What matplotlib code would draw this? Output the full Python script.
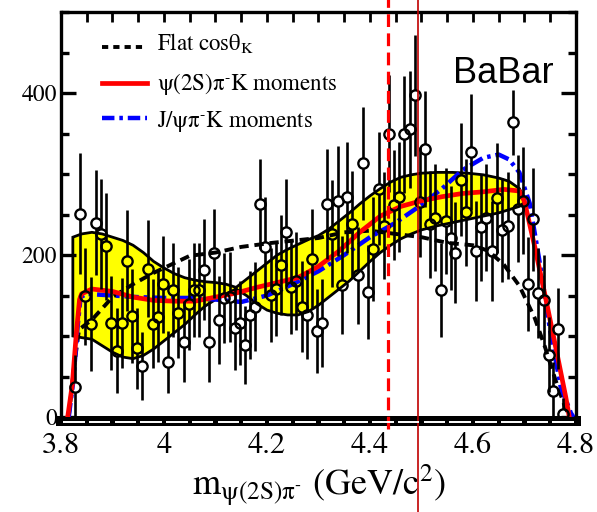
import numpy as np
import matplotlib
matplotlib.use("Agg")
import matplotlib.pyplot as plt
import matplotlib.transforms as mtransforms

plt.rcParams['font.family'] = ['STIXGeneral', 'DejaVu Sans']
plt.rcParams['mathtext.fontset'] = 'stix'

# measured m(psi(2S) pi-) spectrum, GeV/c^2 and events per bin
mass = [3.827, 3.837, 3.847, 3.858, 3.868, 3.878, 3.888, 3.898, 3.908, 3.918,
        3.928, 3.938, 3.948, 3.958, 3.968, 3.978, 3.988, 3.998, 4.007, 4.017,
        4.028, 4.038, 4.048, 4.058, 4.068, 4.078, 4.088, 4.097, 4.107, 4.117,
        4.128, 4.138, 4.148, 4.157, 4.167, 4.177, 4.187, 4.197, 4.207, 4.217,
        4.227, 4.237, 4.247, 4.257, 4.267, 4.277, 4.287, 4.297, 4.307, 4.317,
        4.327, 4.337, 4.346, 4.356, 4.366, 4.376, 4.386, 4.396, 4.406, 4.417,
        4.427, 4.437, 4.446, 4.456, 4.466, 4.477, 4.487, 4.497, 4.507, 4.516,
        4.527, 4.537, 4.547, 4.557, 4.566, 4.576, 4.586, 4.596, 4.606, 4.616,
        4.625, 4.636, 4.646, 4.657, 4.667, 4.677, 4.687, 4.697, 4.707, 4.717,
        4.727, 4.737, 4.747, 4.755, 4.766, 4.774]
counts = [37, 251, 149, 115, 240, 226, 211, 116, 82, 116,
          193, 125, 85, 63, 183, 115, 124, 164, 68, 157,
          129, 93, 139, 157, 157, 182, 93, 202, 120, 147,
          148, 110, 116, 89, 126, 136, 263, 210, 151, 158,
          188, 228, 160, 168, 136, 126, 195, 106, 116, 263,
          226, 267, 163, 271, 238, 175, 313, 154, 207, 282,
          236, 350, 262, 272, 349, 355, 397, 265, 331, 238,
          246, 157, 242, 221, 203, 293, 253, 327, 205, 234,
          246, 205, 270, 231, 236, 364, 257, 267, 164, 244,
          153, 144, 77, 32, 109, 4]
errors = [40, 75, 60, 58, 65, 68, 66, 58, 52, 56,
          62, 58, 50, 42, 60, 55, 56, 60, 38, 58,
          56, 50, 56, 58, 58, 62, 50, 55, 54, 56,
          56, 52, 52, 48, 54, 55, 55, 62, 58, 58,
          62, 66, 58, 60, 56, 55, 62, 52, 54, 68,
          66, 68, 60, 68, 66, 60, 70, 58, 64, 70,
          66, 72, 68, 68, 72, 72, 75, 68, 72, 66,
          66, 58, 66, 64, 62, 70, 66, 72, 62, 66,
          66, 62, 68, 64, 66, 40, 66, 66, 58, 64,
          56, 56, 46, 36, 50, 20]

# psi(2S) pi- K moments projection with its uncertainty band
band_m = [3.823, 3.84, 3.86, 3.88, 3.90, 3.92, 3.94, 3.96, 3.98, 4.00,
          4.02, 4.04, 4.06, 4.08, 4.10, 4.12, 4.14, 4.16, 4.18, 4.20,
          4.22, 4.24, 4.26, 4.28, 4.30, 4.32, 4.34, 4.36, 4.38, 4.40,
          4.42, 4.44, 4.46, 4.48, 4.50, 4.53, 4.56, 4.59, 4.62, 4.65,
          4.67, 4.69, 4.70]
band_hi = [222, 226, 228, 226, 222, 218, 212, 203, 192, 184,
           177, 172, 169, 167, 166, 164, 160, 170, 180, 190,
           200, 207, 213, 219, 224, 232, 242, 252, 263, 273,
           282, 290, 296, 299, 301, 302, 302, 301, 299, 295,
           291, 282, 270]
band_lo = [100, 98, 96, 88, 80, 74, 72, 76, 84, 94,
           104, 114, 126, 137, 145, 152, 158, 150, 140, 132,
           128, 126, 126, 130, 138, 148, 158, 168, 180, 192,
           203, 212, 220, 226, 231, 236, 240, 244, 248, 252,
           256, 260, 265]

psi2s_m = [3.813, 3.822, 3.830, 3.836, 3.84, 3.86, 3.90, 3.94, 3.98, 4.02,
           4.06, 4.10, 4.14, 4.18, 4.22, 4.26, 4.30, 4.34, 4.38, 4.42,
           4.46, 4.50, 4.54, 4.58, 4.62, 4.66, 4.69, 4.70, 4.72, 4.74,
           4.76, 4.78, 4.787]
psi2s_y = [0, 40, 105, 145, 152, 158, 155, 148, 144, 143,
           143, 148, 153, 160, 166, 172, 186, 205, 228, 248,
           260, 267, 272, 276, 278, 281, 279, 266, 210, 150,
           88, 25, 0]

# J/psi pi- K moments projection
jpsi_m = [3.815, 3.824, 3.832, 3.838, 3.85, 3.90, 3.95, 4.00, 4.05, 4.10,
          4.15, 4.20, 4.25, 4.30, 4.35, 4.40, 4.45, 4.50, 4.54, 4.58,
          4.62, 4.65, 4.67, 4.69, 4.71, 4.73, 4.75, 4.77, 4.79, 4.795]
jpsi_y = [0, 45, 110, 148, 152, 150, 148, 147, 147, 145,
          142, 150, 164, 180, 200, 222, 240, 262, 282, 305,
          320, 324, 318, 302, 264, 189, 106, 38, 5, 0]

# flat cos(theta_K) expectation
flat_m = [3.815, 3.825, 3.835, 3.86, 3.90, 3.94, 3.98, 4.02, 4.05, 4.10,
          4.15, 4.21, 4.30, 4.35, 4.40, 4.45, 4.50, 4.55, 4.60, 4.63,
          4.66, 4.69, 4.72, 4.74, 4.76, 4.78, 4.79]
flat_y = [0, 60, 108, 120, 148, 164, 178, 190, 199, 203,
          210, 215, 221, 228, 230, 226, 222, 215, 212, 205,
          188, 162, 122, 86, 46, 10, 0]

z_dashed = 4.435
z_solid = 4.493

fig = plt.figure(figsize=(5.97, 5.12), dpi=100)
ax = fig.add_axes([61 / 597, 1 - 417 / 512, 515 / 597, 405 / 512])
ax.set_xlim(3.8, 4.8)
ax.set_ylim(0, 500)

ax.fill(np.r_[band_m, band_m[::-1]], np.r_[band_hi, band_lo[::-1]],
        facecolor='#ffff00', edgecolor='black', lw=2.0, zorder=1)

ax.plot(flat_m, flat_y, color='black', lw=2.8, ls=(0, (2.4, 1.5)), zorder=3)
ax.plot(jpsi_m, jpsi_y, color='#0000ff', lw=3.2, ls=(0, (3.2, 1.1, 0.8, 1.1)), zorder=3)
ax.plot(psi2s_m, psi2s_y, color='#ff0000', lw=3.4, zorder=4)

# error bars stop at the edge of the hollow markers
fig.canvas.draw()
r_px = 5.0
gap = r_px * 500 / ax.bbox.height
m = np.array(mass)
c = np.array(counts)
e = np.array(errors)
lo_end = np.maximum(c - e, 0)
ax.vlines(m, lo_end, np.maximum(c - gap, lo_end), color='black', lw=1.9, zorder=5)
ax.vlines(m, c + gap, c + e, color='black', lw=1.9, zorder=5)
ax.plot(m, c, 'o', ms=7.4, mfc='none', mec='black', mew=1.7, zorder=6)

# reference mass lines
ax.axvline(z_dashed, ymin=-0.03, ymax=1.04, color='#ff0000', lw=2.3,
           ls=(0, (4, 2)), clip_on=False, zorder=7)
ax.axvline(z_solid, ymin=-0.24, ymax=1.04, color='#c00000', lw=1.2,
           clip_on=False, zorder=7)

# axes frame and ticks
for side in ['left', 'right', 'top']:
    ax.spines[side].set_linewidth(2.4)
ax.spines['bottom'].set_linewidth(7.2)
ax.spines['bottom'].set_position(('outward', 3))
ax.set_xticks([3.8, 4.0, 4.2, 4.4, 4.6, 4.8])
ax.set_xticklabels(['3.8', '4', '4.2', '4.4', '4.6', '4.8'])
ax.set_xticks(np.arange(3.8, 4.81, 0.05), minor=True)
ax.set_yticks([0, 200, 400])
ax.set_yticks(np.arange(0, 501, 50), minor=True)
ax.tick_params(axis='x', which='both', bottom=False, top=True, direction='in',
               length=7, width=2, labelsize=22, pad=8)
ax.tick_params(axis='y', which='major', left=True, right=True, direction='in',
               length=11, width=2.4, labelsize=17, pad=3)
ax.tick_params(axis='y', which='minor', left=True, right=True, direction='in',
               length=6, width=2.4)

# white gaps along the thick bottom axis line
gap_trans = mtransforms.offset_copy(ax.get_xaxis_transform(), fig=fig, y=-5, units='dots')
for x0 in np.arange(3.8, 4.79, 0.05):
    ax.plot([x0 + 0.004, x0 + 0.046], [0, 0], color='white', lw=1.4,
            transform=gap_trans, clip_on=False, zorder=10, solid_capstyle='butt')

ax.set_xlabel(r'm$_{\mathrm{\psi(2S)\pi}^{\text{-}}}$ (GeV/c$^{2}$)', fontsize=26, labelpad=2)

# legend
leg = [(0.914, 0.906, dict(color='black', lw=2.8, ls=(0, (1.6, 1.3))), r'Flat cos$\mathrm{\theta}_{\mathrm{K}}$'),
       (0.825, 0.807, dict(color='#ff0000', lw=3.4), r'ψ(2S)π$^{\text{-}}$K moments'),
       (0.738, 0.716, dict(color='#0000ff', lw=3.2, ls=(0, (2.8, 1.1, 0.8, 1.1))), r'J/ψπ$^{\text{-}}$K moments')]
for y_line, y_text, style, label in leg:
    ax.plot([0.080, 0.167], [y_line, y_line], transform=ax.transAxes, **style)
    ax.text(0.186, y_text, label, transform=ax.transAxes, fontsize=16.5, va='baseline')

ax.text(0.761, 0.825, 'BaBar', transform=ax.transAxes, fontsize=26,
        family=['Liberation Sans', 'DejaVu Sans'], va='baseline')

fig.savefig('out.png', dpi=100)
